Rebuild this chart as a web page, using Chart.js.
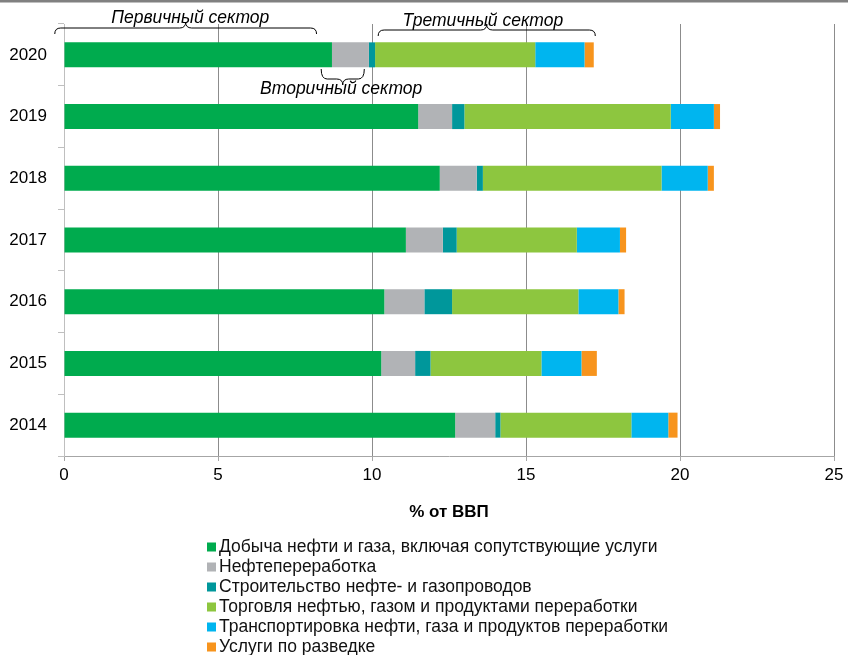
<!DOCTYPE html>
<html lang="ru">
<head>
<meta charset="utf-8">
<title>Нефтегазовый сектор, % от ВВП</title>
<script src="https://cdn.jsdelivr.net/npm/chart.js@4.4.1/dist/chart.umd.min.js"></script>
<style>
  html, body { margin: 0; padding: 0; background: #fff; }
</style>
</head>
<body>
<canvas id="gdp-chart" width="848" height="655"></canvas>
<script>
// years, top to bottom
const years = ['2020', '2019', '2018', '2017', '2016', '2015', '2014'];

// shares of GDP, %
const production  = [8.7, 11.5, 12.2, 11.1, 10.4, 10.3, 12.7];
const refining    = [1.2, 1.1, 1.2, 1.2, 1.3, 1.1, 1.3];
const pipelines   = [0.2, 0.4, 0.2, 0.45, 0.9, 0.5, 0.17];
const trade       = [5.2, 6.7, 5.8, 3.9, 4.1, 3.6, 4.25];
const transport   = [1.6, 1.4, 1.5, 1.4, 1.3, 1.3, 1.2];
const exploration = [0.3, 0.2, 0.2, 0.2, 0.2, 0.5, 0.3];

const seriesNames = [
    'Добыча нефти и газа, включая сопутствующие услуги',
    'Нефтепереработка',
    'Строительство нефте- и газопроводов',
    'Торговля нефтью, газом и продуктами переработки',
    'Транспортировка нефти, газа и продуктов переработки',
    'Услуги по разведке'
];

const xMin = 0;
const xMax = 25;
const xStep = 5;

const colors = ['#00ab4e', '#b1b3b6', '#00979b', '#8dc63f', '#00b5ef', '#f7941d'];
const FONT = 'Arial, "Liberation Sans", sans-serif';

// curly braces over the bars; spans are in % of GDP
const sectorBraces = [
    { text: 'Первичный сектор', from: -0.3, to: 8.2, textX: 4.1, lineY: 28, textY: 18, up: true },
    { text: 'Третичный сектор', from: 10.2, to: 17.25, textX: 13.6, lineY: 30, textY: 21, up: true },
    { text: 'Вторичный сектор', from: 8.35, to: 9.75, textX: 9.0, lineY: 79, textY: 89, up: false }
];

function drawBrace(ctx, x1, x2, y, up) {
    const s = up ? 1 : -1;
    const endH = up ? 6 : 10;
    const tipH = 6;
    const r = 6;
    const xm = (x1 + x2) / 2;
    ctx.beginPath();
    ctx.moveTo(x1, y + s * endH);
    ctx.quadraticCurveTo(x1, y, x1 + r, y);
    ctx.lineTo(xm - r, y);
    ctx.quadraticCurveTo(xm, y, xm, y - s * tipH);
    ctx.quadraticCurveTo(xm, y, xm + r, y);
    ctx.lineTo(x2 - r, y);
    ctx.quadraticCurveTo(x2, y, x2, y + s * endH);
    ctx.stroke();
}

// top rule, sector braces and the one-per-line legend
const extras = {
    id: 'extras',
    beforeDraw(chart) {
        const ctx = chart.ctx;
        ctx.save();
        ctx.fillStyle = '#808080';
        ctx.fillRect(0, 0, chart.width, 2.5);
        ctx.restore();
    },
    afterDraw(chart) {
        const ctx = chart.ctx;
        const x = chart.scales.x;
        ctx.save();
        ctx.strokeStyle = '#000';
        ctx.lineWidth = 1;
        ctx.fillStyle = '#000';
        ctx.font = 'italic 17.5px ' + FONT;
        ctx.textAlign = 'center';
        ctx.textBaseline = 'middle';
        sectorBraces.forEach(b => {
            drawBrace(ctx, x.getPixelForValue(b.from), x.getPixelForValue(b.to), b.lineY, b.up);
            ctx.fillText(b.text, x.getPixelForValue(b.textX), b.textY);
        });

        ctx.font = '17.5px ' + FONT;
        ctx.textAlign = 'left';
        chart.data.datasets.forEach((ds, i) => {
            const cy = 547 + i * 20;
            ctx.fillStyle = ds.backgroundColor;
            ctx.fillRect(207, cy - 4.5, 9, 9);
            ctx.fillStyle = '#111';
            ctx.fillText(ds.label, 219, cy + 0.5);
        });
        ctx.restore();
    }
};

const seriesValues = [production, refining, pipelines, trade, transport, exploration];

const gdpChart = new Chart(document.getElementById('gdp-chart'), {
    type: 'bar',
    data: {
        labels: years,
        datasets: seriesValues.map((vals, i) => ({
            label: seriesNames[i],
            data: vals,
            backgroundColor: colors[i],
            borderWidth: 0,
            categoryPercentage: 1,
            barPercentage: 0.405
        }))
    },
    options: {
        indexAxis: 'y',
        responsive: false,
        animation: false,
        devicePixelRatio: 1,
        layout: { padding: { top: 24, right: 14, left: 0, bottom: 119 } },
        plugins: {
            legend: { display: false },
            tooltip: { enabled: false }
        },
        scales: {
            x: {
                stacked: true,
                min: xMin,
                max: xMax,
                afterFit: s => { s.height = 80; },
                grid: {
                    color: c => (c.tick && c.tick.value === 0) ? '#bfbfbf' : '#8c8c8c',
                    tickColor: '#a6a6a6',
                    tickLength: 5
                },
                border: { color: '#a6a6a6' },
                ticks: {
                    stepSize: xStep,
                    padding: 4,
                    color: '#000',
                    font: { family: FONT, size: 17 }
                },
                title: {
                    display: true,
                    text: '% от ВВП',
                    color: '#000',
                    font: { family: FONT, size: 17, weight: 'bold' },
                    padding: { top: 0, bottom: 13 }
                }
            },
            y: {
                stacked: true,
                afterFit: s => { s.width = 64; },
                grid: {
                    drawOnChartArea: false,
                    color: '#bfbfbf',
                    tickLength: 6
                },
                border: { color: '#bfbfbf' },
                ticks: {
                    padding: 11,
                    color: '#000',
                    font: { family: FONT, size: 17 }
                }
            }
        }
    },
    plugins: [extras]
});
</script>
</body>
</html>
